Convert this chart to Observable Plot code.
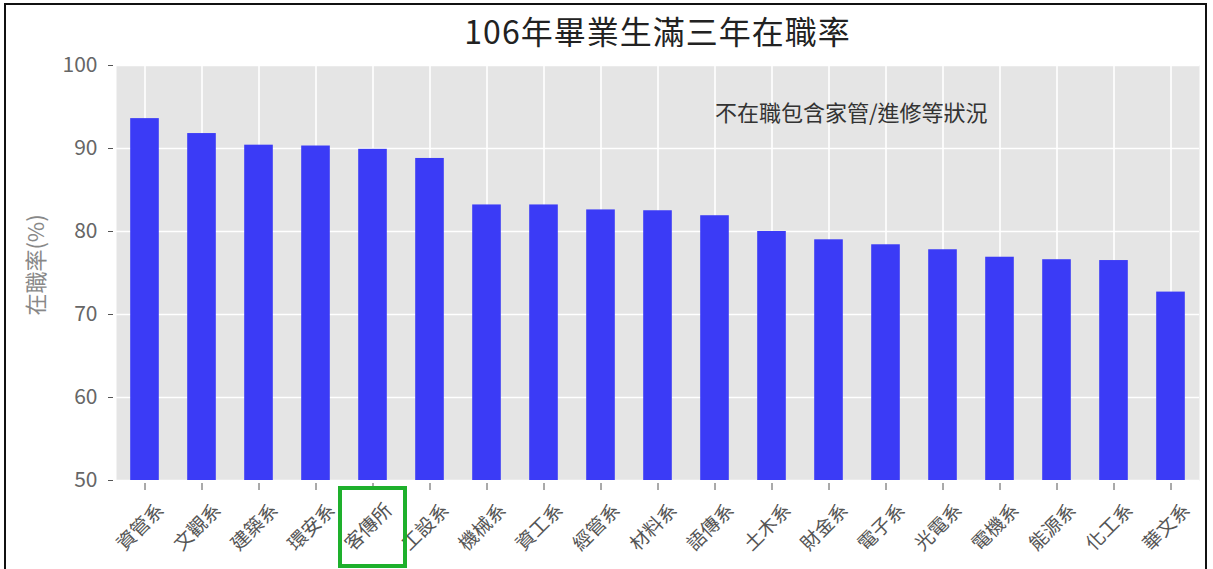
<!DOCTYPE html>
<html>
<head>
<meta charset="utf-8">
<script src="https://cdn.jsdelivr.net/npm/d3@7"></script>
<script src="https://cdn.jsdelivr.net/npm/@observablehq/plot@0.6"></script>
<style>
  html, body { margin: 0; padding: 0; background: #fff; }
  #wrap { position: relative; width: 1213px; height: 569px; overflow: hidden; background: #fff;
          font-family: "Noto Sans CJK TC", "Noto Sans", sans-serif; }
  #border { position: absolute; left: 4px; top: 3px; width: 1203px; height: 580px;
            border: 2px solid #111; box-sizing: border-box; pointer-events: none; }
  #title { position: absolute; left: 116px; width: 1083px; top: 8px; text-align: center;
           font-size: 32px; color: #222; letter-spacing: 1px; line-height: 44px; }
  #chart { position: absolute; left: 0; top: 0; }
</style>
</head>
<body>
<div id="wrap">
  <div id="chart"></div>
  <div id="title">106年畢業生滿三年在職率</div>
  <div id="border"></div>
</div>
<script>
const departments = ["資管系","文觀系","建築系","環安系","客傳所","工設系","機械系","資工系","經管系","材料系","語傳系","土木系","財金系","電子系","光電系","電機系","能源系","化工系","華文系"];
const rates = [93.6, 91.8, 90.4, 90.3, 89.9, 88.8, 83.2, 83.2, 82.6, 82.5, 81.9, 80.0, 79.0, 78.4, 77.8, 76.9, 76.6, 76.5, 72.7];
const yTicks = [50, 60, 70, 80, 90, 100];
const yLabel = "在職率(%)";
const noteText = ["不在職包含家管/進修等狀況"];
const noteCategory = ["語傳系"];
const noteValue = [94.2];
const highlighted = ["客傳所"];

const data = departments.map((d, i) => ({dept: d, rate: rates[i]}));
const notes = noteText.map((t, i) => ({text: t, dept: noteCategory[i], value: noteValue[i]}));

const chart = Plot.plot({
  width: 1213,
  height: 569,
  marginLeft: 116,
  marginRight: 14,
  marginTop: 65,
  marginBottom: 89,
  style: {fontFamily: '"Noto Sans CJK TC", "Noto Sans", sans-serif', background: "transparent", overflow: "visible"},
  x: {domain: departments, paddingInner: 0, paddingOuter: 0, round: false},
  y: {domain: [50, 100]},
  marks: [
    Plot.frame({fill: "#e5e5e5", stroke: null}),
    Plot.gridY(yTicks, {stroke: "#fff", strokeOpacity: 1, strokeWidth: 1.6}),
    Plot.gridX(departments, {stroke: "#fff", strokeOpacity: 1, strokeWidth: 1.6}),
    Plot.barY(data, {x: "dept", y1: 50, y2: "rate", fill: "#3b3bf6", insetLeft: 14.2, insetRight: 14.2}),
    Plot.axisY(yTicks, {tickSize: 5, dx: -3, tickPadding: 11, fontSize: 21, color: "#666", stroke: "#555",
      label: null}),
    Plot.text([yLabel], {frameAnchor: "left", textAnchor: "middle", dx: -80, dy: -8, rotate: -90,
      fontSize: 22, fill: "#888", text: d => d}),
    Plot.axisX(departments, {tickSize: 7, dy: 3, tickFormat: null, label: null, stroke: "#555", text: null}),
    Plot.text(departments, {x: d => d, frameAnchor: "bottom", textAnchor: "middle", dy: 51, rotate: -45,
      fontSize: 19, fill: "#555", text: d => d}),
    Plot.text(notes, {x: "dept", y: "value", text: "text", textAnchor: "start", fontSize: 22, fill: "#333"}),
    Plot.barY(highlighted, {x: d => d, y1: () => 50, y2: () => 50, fill: "none", stroke: "#1eb02c", strokeWidth: 4,
      insetLeft: -4, insetRight: -4, insetTop: 8, insetBottom: -86})
  ]
});
document.getElementById("chart").appendChild(chart);
</script>
</body>
</html>
